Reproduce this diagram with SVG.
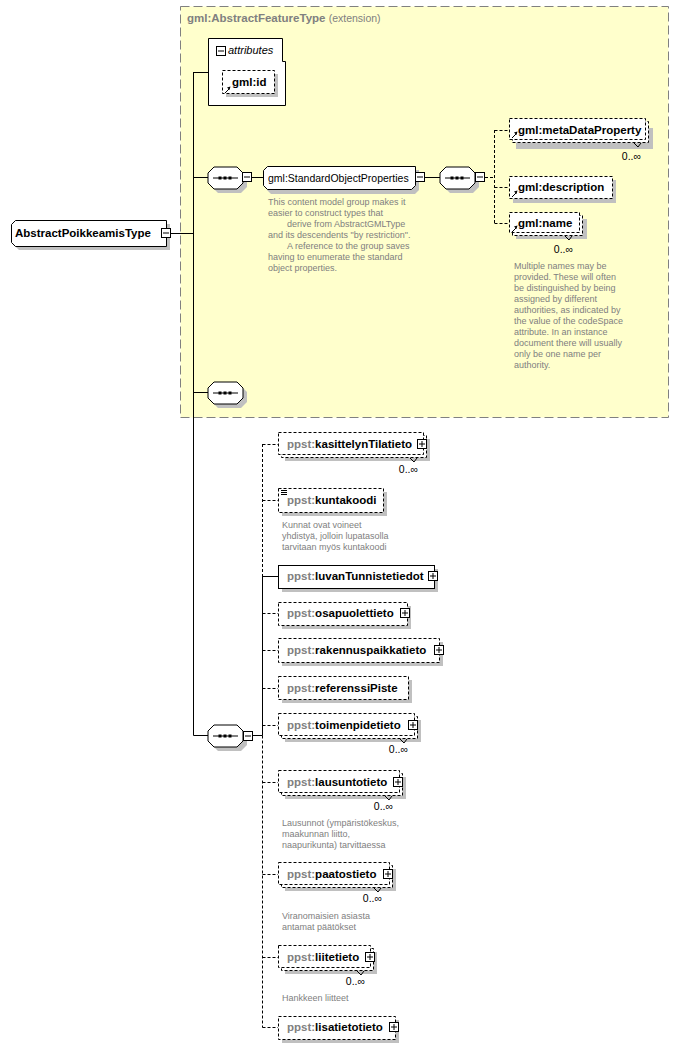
<svg xmlns="http://www.w3.org/2000/svg" xmlns:xlink="http://www.w3.org/1999/xlink" width="679" height="1049" viewBox="0 0 679 1049">
<style>
.sh{fill:#c0c0c0;stroke:none}
.box{fill:#fff;stroke:#000;stroke-width:1}
.dbox{fill:#fff;stroke:#000;stroke-width:1;stroke-dasharray:3,2}
.ln{fill:none;stroke:#000;stroke-width:1}
.dln{fill:none;stroke:#000;stroke-width:1;stroke-dasharray:3,2}
.b{font-family:"Liberation Sans",Arial,sans-serif;font-size:11.5px;font-weight:bold;fill:#000}
.pre{fill:#808080}
.r{font-family:"Liberation Sans",Arial,sans-serif;font-size:10.5px;fill:#000}
.d{font-family:"Liberation Sans",Arial,sans-serif;font-size:9px;fill:#808080}
.m{font-family:"Liberation Sans",Arial,sans-serif;font-size:10.5px;fill:#000;text-anchor:end}
</style>
<defs>
<g id="seq">
<polygon class="sh" points="10,4 33,4 39,10 39,20 33,26 10,26 4,20 4,10"/>
<polygon class="box" points="6,0 29,0 35,6 35,16 29,22 6,22 0,16 0,6"/>
<path class="ln" d="M5,11H30"/>
<rect x="10.5" y="9.5" width="3" height="3" fill="#000"/>
<rect x="15.5" y="9.5" width="3" height="3" fill="#000"/>
<rect x="20.5" y="9.5" width="3" height="3" fill="#000"/>
</g>
<g id="minus">
<rect class="box" x="0.5" y="0.5" width="9" height="9"/>
<path class="ln" d="M2,5H8"/>
</g>
<g id="plus">
<rect class="box" x="0.5" y="0.5" width="9" height="9"/>
<path class="ln" d="M2,5H8M5,2V8"/>
</g>
<g id="ref">
<path class="ln" d="M1,7L5,3"/>
<polygon points="3,1.5 6.5,0.5 5.5,4" fill="#000"/>
</g>
</defs>

<!-- extension area -->
<g id="extension">
<rect x="180.5" y="6.5" width="488" height="411" fill="#ffffcc" stroke="#808080" stroke-dasharray="9,4"/>
<text x="187" y="22" class="b" style="fill:#808080">gml:AbstractFeatureType <tspan style="font-weight:normal;font-size:10.5px">(extension)</tspan></text>
</g>

<!-- connectors -->
<g id="connectors">
<path class="ln" d="M170,233.5H193.5M193.5,72V735.5M193.5,72.5H208M193.5,177.5H208M193.5,392.5H208M193.5,735.5H208"/>
<path class="ln" d="M252,177.5H263M425,177.5H440"/>
<path class="dln" d="M485,177.5H494.5M494.5,130V223M494.5,130.5H509M494.5,187.5H509M494.5,223.5H509"/>
<path class="ln" d="M253,735.5H262.5M262.5,576V735.5M262.5,576.5H278"/>
<path class="dln" d="M262.5,444V576M262.5,735.5V1027.5M262.5,444.5H278M262.5,500.5H278M262.5,613.5H278M262.5,650.5H278M262.5,688.5H278M262.5,725.5H278M262.5,782.5H278M262.5,874.5H278M262.5,957.5H278M262.5,1027.5H278"/>
</g>

<!-- root -->
<g id="n-root">
<path class="sh" d="M19,224H170V250H19L15,246V228Z"/>
<path class="box" d="M15.5,220.5H166.5V246.5H15.5L11.5,242.5V224.5Z"/>
<text x="15" y="237" class="b">AbstractPoikkeamisType</text>
<use xlink:href="#minus" x="161" y="228"/>
</g>

<!-- attributes -->
<g id="n-attributes">
<path class="box" d="M208.5,38.5H282.5V61.5H285.5V105.5H208.5Z"/>
<use xlink:href="#minus" x="216" y="46"/>
<text x="228" y="54" style="font-family:'Liberation Sans',Arial,sans-serif;font-size:11px;font-style:italic">attributes</text>
</g>
<g id="n-gmlid">
<rect class="sh" x="226" y="74" width="52" height="23"/>
<rect class="dbox" x="222.5" y="70.5" width="52" height="23"/>
<use xlink:href="#ref" x="224" y="86"/>
<text x="232" y="86" class="b">gml:id</text>
</g>

<!-- sequences -->
<g id="n-seq1">
<use xlink:href="#seq" x="208" y="167"/>
<use xlink:href="#minus" x="242" y="172"/>
</g>
<g id="n-sop">
<path class="sh" d="M271,170H419V190L415,194H271L267,190V174Z"/>
<path class="box" d="M267.5,166.5H415.5V185.5L411.5,189.5H267.5L263.5,185.5V170.5Z"/>
<text x="268" y="181.5" class="r">gml:StandardObjectProperties</text>
<use xlink:href="#minus" x="415" y="172"/>
<text class="d">
<tspan x="268" y="205">This content model group makes it</tspan>
<tspan x="268" y="216">easier to construct types that</tspan>
<tspan x="287" y="227">derive from AbstractGMLType</tspan>
<tspan x="268" y="238">and its descendents "by restriction".</tspan>
<tspan x="287" y="249">A reference to the group saves</tspan>
<tspan x="268" y="260">having to enumerate the standard</tspan>
<tspan x="268" y="271">object properties.</tspan>
</text>
</g>
<g id="n-seq2">
<use xlink:href="#seq" x="440" y="167"/>
<use xlink:href="#minus" x="475" y="172"/>
</g>
<g id="n-metadata">
<rect class="sh" x="516" y="128" width="137" height="21"/>
<rect class="dbox" x="512.5" y="121.5" width="136" height="21"/>
<rect class="dbox" x="509.5" y="118.5" width="136" height="21"/>
<use xlink:href="#ref" x="511" y="131"/>
<text x="518" y="134" class="b">gml:metaDataProperty</text>
<path class="ln" d="M634,143L638,147L641,143" stroke-width="0.8"/>
<text x="641" y="160" class="m">0..∞</text>
</g>
<g id="n-description">
<rect class="sh" x="513" y="180" width="103" height="23"/>
<rect class="dbox" x="509.5" y="176.5" width="103" height="22"/>
<use xlink:href="#ref" x="511" y="190"/>
<text x="518" y="191" class="b">gml:description</text>
</g>
<g id="n-name">
<rect class="sh" x="516" y="219" width="71" height="20"/>
<rect class="dbox" x="512.5" y="215.5" width="70" height="20"/>
<rect class="dbox" x="509.5" y="212.5" width="70" height="20"/>
<use xlink:href="#ref" x="511" y="225"/>
<text x="518" y="227" class="b">gml:name</text>
<path class="ln" d="M565,236L569,240L572,236" stroke-width="0.8"/>
<text x="573" y="253" class="m">0..∞</text>
<text class="d">
<tspan x="514" y="269">Multiple names may be</tspan>
<tspan x="514" y="280">provided.  These will often</tspan>
<tspan x="514" y="291">be distinguished by being</tspan>
<tspan x="514" y="302">assigned by different</tspan>
<tspan x="514" y="313">authorities, as indicated by</tspan>
<tspan x="514" y="324">the value of the codeSpace</tspan>
<tspan x="514" y="335">attribute.  In an instance</tspan>
<tspan x="514" y="346">document there will usually</tspan>
<tspan x="514" y="357">only be one name per</tspan>
<tspan x="514" y="368">authority.</tspan>
</text>
</g>
<g id="n-seq3">
<use xlink:href="#seq" x="208" y="382"/>
</g>

<!-- bottom sequence -->
<g id="n-seq4">
<use xlink:href="#seq" x="208" y="725"/>
<use xlink:href="#minus" x="243" y="731"/>
</g>

<g id="n-kasittelynTilatieto">
<rect class="sh" x="285" y="439" width="145" height="22"/>
<rect class="dbox" x="281.5" y="435.5" width="145" height="22"/>
<rect class="dbox" x="278.5" y="432.5" width="145" height="22"/>
<text x="287" y="448" class="b"><tspan class="pre">ppst:</tspan>kasittelynTilatieto</text>
<use xlink:href="#plus" x="417" y="439"/>
<path class="ln" d="M410,458L414,462L417,458" stroke-width="0.8"/>
<text x="418" y="473" class="m">0..∞</text>
</g>
<g id="n-kuntakoodi">
<rect class="sh" x="282" y="492" width="105" height="24"/>
<rect class="dbox" x="278.5" y="488.5" width="105" height="24"/>
<path class="ln" d="M281,490.5H287M281,492.5H287M281,494.5H287" stroke-width="0.8"/>
<text x="287" y="504" class="b"><tspan class="pre">ppst:</tspan>kuntakoodi</text>
<text class="d">
<tspan x="282" y="528">Kunnat ovat voineet</tspan>
<tspan x="282" y="539">yhdistyä, jolloin lupatasolla</tspan>
<tspan x="282" y="550">tarvitaan myös kuntakoodi</tspan>
</text>
</g>
<g id="n-luvanTunnistetiedot">
<rect class="sh" x="282" y="569" width="156" height="23"/>
<rect class="box" x="278.5" y="565.5" width="156" height="23"/>
<text x="287" y="580" class="b"><tspan class="pre">ppst:</tspan>luvanTunnistetiedot</text>
<use xlink:href="#plus" x="428" y="571"/>
</g>
<g id="n-osapuolettieto">
<rect class="sh" x="282" y="606" width="129" height="23"/>
<rect class="dbox" x="278.5" y="602.5" width="129" height="23"/>
<text x="287" y="617" class="b"><tspan class="pre">ppst:</tspan>osapuolettieto</text>
<use xlink:href="#plus" x="400" y="608"/>
</g>
<g id="n-rakennuspaikkatieto">
<rect class="sh" x="282" y="642" width="161" height="24"/>
<rect class="dbox" x="278.5" y="638.5" width="161" height="24"/>
<text x="287" y="654" class="b"><tspan class="pre">ppst:</tspan>rakennuspaikkatieto</text>
<use xlink:href="#plus" x="434" y="645"/>
</g>
<g id="n-referenssiPiste">
<rect class="sh" x="282" y="680" width="130" height="23"/>
<rect class="dbox" x="278.5" y="676.5" width="130" height="23"/>
<text x="287" y="692" class="b"><tspan class="pre">ppst:</tspan>referenssiPiste</text>
</g>
<g id="n-toimenpidetieto">
<rect class="sh" x="285" y="720" width="136" height="22"/>
<rect class="dbox" x="281.5" y="716.5" width="136" height="22"/>
<rect class="dbox" x="278.5" y="713.5" width="136" height="22"/>
<text x="287" y="729" class="b"><tspan class="pre">ppst:</tspan>toimenpidetieto</text>
<use xlink:href="#plus" x="408" y="720"/>
<path class="ln" d="M400,739L404,743L407,739" stroke-width="0.8"/>
<text x="408" y="753" class="m">0..∞</text>
</g>
<g id="n-lausuntotieto">
<rect class="sh" x="285" y="777" width="121" height="22"/>
<rect class="dbox" x="281.5" y="773.5" width="121" height="22"/>
<rect class="dbox" x="278.5" y="770.5" width="121" height="22"/>
<text x="287" y="786" class="b"><tspan class="pre">ppst:</tspan>lausuntotieto</text>
<use xlink:href="#plus" x="393" y="777"/>
<path class="ln" d="M385,796L389,800L392,796" stroke-width="0.8"/>
<text x="393" y="810" class="m">0..∞</text>
<text class="d">
<tspan x="282" y="826">Lausunnot (ympäristökeskus,</tspan>
<tspan x="282" y="837">maakunnan liitto,</tspan>
<tspan x="282" y="848">naapurikunta) tarvittaessa</tspan>
</text>
</g>
<g id="n-paatostieto">
<rect class="sh" x="285" y="869" width="111" height="22"/>
<rect class="dbox" x="281.5" y="865.5" width="111" height="22"/>
<rect class="dbox" x="278.5" y="862.5" width="111" height="22"/>
<text x="287" y="878" class="b"><tspan class="pre">ppst:</tspan>paatostieto</text>
<use xlink:href="#plus" x="383" y="869"/>
<path class="ln" d="M374,888L378,892L381,888" stroke-width="0.8"/>
<text x="382" y="902" class="m">0..∞</text>
<text class="d">
<tspan x="282" y="919">Viranomaisien asiasta</tspan>
<tspan x="282" y="930">antamat päätökset</tspan>
</text>
</g>
<g id="n-liitetieto">
<rect class="sh" x="285" y="952" width="92" height="22"/>
<rect class="dbox" x="281.5" y="948.5" width="92" height="22"/>
<rect class="dbox" x="278.5" y="945.5" width="92" height="22"/>
<text x="287" y="961" class="b"><tspan class="pre">ppst:</tspan>liitetieto</text>
<use xlink:href="#plus" x="365" y="952"/>
<path class="ln" d="M357,971L361,975L364,971" stroke-width="0.8"/>
<text x="365" y="985" class="m">0..∞</text>
<text class="d"><tspan x="282" y="1001">Hankkeen liitteet</tspan></text>
</g>
<g id="n-lisatietotieto">
<rect class="sh" x="282" y="1020" width="117" height="23"/>
<rect class="dbox" x="278.5" y="1016.5" width="117" height="23"/>
<text x="287" y="1031" class="b"><tspan class="pre">ppst:</tspan>lisatietotieto</text>
<use xlink:href="#plus" x="389" y="1022"/>
</g>
</svg>
